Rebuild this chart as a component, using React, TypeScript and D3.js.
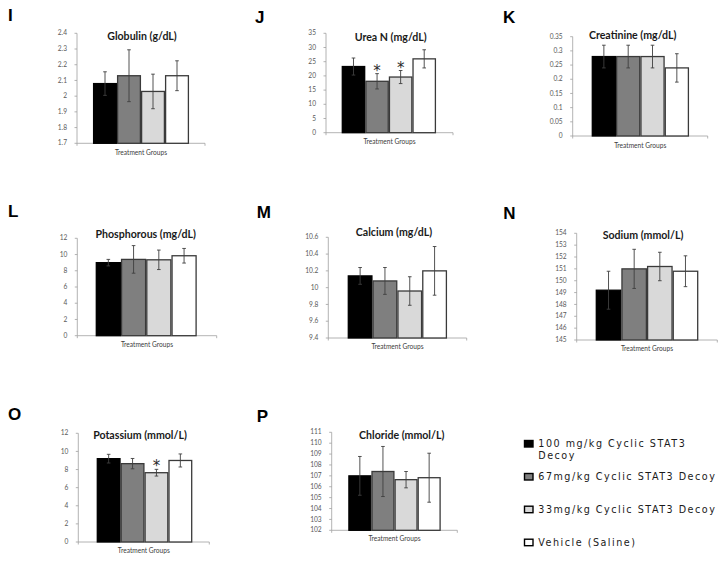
import React from "react";
import * as d3 from "d3";

// ---------- DATA ----------
const groupLabels = [
  "100 mg/kg Cyclic STAT3 Decoy",
  "67mg/kg Cyclic STAT3 Decoy",
  "33mg/kg Cyclic STAT3 Decoy",
  "Vehicle (Saline)",
];
const panelLetters = ["I", "J", "K", "L", "M", "N", "O", "P"];
const panelTitles = [
  "Globulin (g/dL)",
  "Urea N (mg/dL)",
  "Creatinine (mg/dL)",
  "Phosphorous (mg/dL)",
  "Calcium (mg/dL)",
  "Sodium (mmol/L)",
  "Potassium (mmol/L)",
  "Chloride (mmol/L)",
];
const xAxisLabel = "Treatment Groups";

const globulinMean = [2.08, 2.13, 2.03, 2.13];
const globulinErr = [0.075, 0.165, 0.11, 0.095];
const globulinTicks = [1.7, 1.8, 1.9, 2, 2.1, 2.2, 2.3, 2.4];

const ureaMean = [23.3, 18.1, 19.6, 26.0];
const ureaErr = [3.0, 2.7, 2.3, 3.2];
const ureaTicks = [0, 5, 10, 15, 20, 25, 30, 35];
const ureaSig = [false, true, true, false];

const creatinineMean = [0.28, 0.28, 0.28, 0.24];
const creatinineErr = [0.04, 0.04, 0.04, 0.05];
const creatinineTicks = [0, 0.05, 0.1, 0.15, 0.2, 0.25, 0.3, 0.35];

const phosphorousMean = [9.0, 9.4, 9.35, 9.85];
const phosphorousErr = [0.4, 1.7, 1.2, 0.9];
const phosphorousTicks = [0, 2, 4, 6, 8, 10, 12];

const calciumMean = [10.14, 10.08, 9.96, 10.2];
const calciumErr = [0.1, 0.16, 0.17, 0.29];
const calciumTicks = [9.4, 9.6, 9.8, 10, 10.2, 10.4, 10.6];

const sodiumMean = [149.2, 151.0, 151.2, 150.8];
const sodiumErr = [1.6, 1.65, 1.2, 1.3];
const sodiumTicks = [145, 146, 147, 148, 149, 150, 151, 152, 153, 154];

const potassiumMean = [9.2, 8.65, 7.65, 9.0];
const potassiumErr = [0.48, 0.57, 0.37, 0.72];
const potassiumTicks = [0, 2, 4, 6, 8, 10, 12];
const potassiumSig = [false, false, true, false];

const chlorideMean = [107.0, 107.4, 106.65, 106.83];
const chlorideErr = [1.78, 2.3, 0.75, 2.25];
const chlorideTicks = [102, 103, 104, 105, 106, 107, 108, 109, 110, 111];

const noSig = [false, false, false, false];

const panelData = [
  { mean: globulinMean, err: globulinErr, ticks: globulinTicks, sig: noSig },
  { mean: ureaMean, err: ureaErr, ticks: ureaTicks, sig: ureaSig },
  { mean: creatinineMean, err: creatinineErr, ticks: creatinineTicks, sig: noSig },
  { mean: phosphorousMean, err: phosphorousErr, ticks: phosphorousTicks, sig: noSig },
  { mean: calciumMean, err: calciumErr, ticks: calciumTicks, sig: noSig },
  { mean: sodiumMean, err: sodiumErr, ticks: sodiumTicks, sig: noSig },
  { mean: potassiumMean, err: potassiumErr, ticks: potassiumTicks, sig: potassiumSig },
  { mean: chlorideMean, err: chlorideErr, ticks: chlorideTicks, sig: noSig },
];

// ---------- LAYOUT ----------
const layout = [
  { lx: 8, ly: 21, ax: 77, top: 33.3, bot: 143.3, x0: 93, x1: 189, end: 205, tx: 142, ty: 40, xl: 155 },
  { lx: 255, ly: 22.5, ax: 326, top: 33.3, bot: 132.7, x0: 341.7, x1: 436, end: 453, tx: 390.7, ty: 41, xl: 144 },
  { lx: 503, ly: 23.3, ax: 572.7, top: 36.7, bot: 136, x0: 591.7, x1: 689, end: 707.7, tx: 632.7, ty: 38.7, xl: 147.7 },
  { lx: 8, ly: 216.7, ax: 77.3, top: 238.3, bot: 335.7, x0: 95.7, x1: 196.7, end: 216.7, tx: 145.7, ty: 238.3, xl: 346.7 },
  { lx: 256.7, ly: 218.3, ax: 328.3, top: 237.3, bot: 338, x0: 347.7, x1: 447, end: 466.7, tx: 394, ty: 236, xl: 349.3 },
  { lx: 503.3, ly: 219.3, ax: 576.7, top: 233.3, bot: 340, x0: 595.7, x1: 698.3, end: 717.3, tx: 643, ty: 239, xl: 350.7 },
  { lx: 8, ly: 420, ax: 78.3, top: 433.3, bot: 542, x0: 96.7, x1: 192.3, end: 209.3, tx: 140, ty: 439.3, xl: 552.7 },
  { lx: 256.7, ly: 421.7, ax: 331.7, top: 432.3, bot: 530.3, x0: 348.3, x1: 440.7, end: 457.3, tx: 401.7, ty: 439, xl: 540.7 },
];

const fills = ["#000000", "#7f7f7f", "#d9d9d9", "#ffffff"];
const strokes = ["#000000", "#3a3a3a", "#3a3a3a", "#3a3a3a"];
const axisColor = "#a0a0a0";
const tickText = "#595959";
const titleFont = "Lato, 'Open Sans', sans-serif";

const legendRows = [
  { y: 447, lines: ["100 mg/kg Cyclic STAT3", "Decoy"] },
  { y: 480, lines: ["67mg/kg Cyclic STAT3 Decoy"] },
  { y: 512.7, lines: ["33mg/kg Cyclic STAT3 Decoy"] },
  { y: 545.7, lines: ["Vehicle (Saline)"] },
];

function Panel({ i }: { i: number }) {
  const L = layout[i];
  const D = panelData[i];
  const y = d3
    .scaleLinear()
    .domain([D.ticks[0], D.ticks[D.ticks.length - 1]])
    .range([L.bot, L.top]);
  const x = d3
    .scaleBand<number>()
    .domain(D.mean.map((_, k) => k))
    .range([L.x0, L.x1])
    .padding(0);
  const bw = x.bandwidth();
  return (
    <g>
      <text
        x={L.lx}
        y={L.ly}
        fontFamily="'Liberation Sans', Arial, sans-serif"
        fontWeight="bold"
        fontSize={17}
        fill="#000"
      >
        {panelLetters[i]}
      </text>
      {/* y axis */}
      <line x1={L.ax} x2={L.ax} y1={L.top} y2={L.bot} stroke={axisColor} strokeWidth={0.8} />
      {D.ticks.map((t) => (
        <g key={t}>
          <line x1={L.ax - 2.5} x2={L.ax} y1={y(t)} y2={y(t)} stroke={axisColor} strokeWidth={0.8} />
          <text
            x={L.ax - 10}
            y={y(t)}
            dy="0.33em"
            textAnchor="end"
            fontFamily={titleFont}
            fontSize={6.6}
            fill={tickText}
          >
            {String(t)}
          </text>
        </g>
      ))}
      {/* x axis */}
      <line x1={L.ax} x2={L.end} y1={L.bot} y2={L.bot} stroke={axisColor} strokeWidth={0.8} />
      <line x1={L.ax} x2={L.ax} y1={L.bot} y2={L.bot + 2.5} stroke={axisColor} strokeWidth={0.8} />
      <line x1={L.end} x2={L.end} y1={L.bot} y2={L.bot + 2.5} stroke={axisColor} strokeWidth={0.8} />
      {/* bars */}
      {D.mean.map((m, k) => {
        const bx = x(k)!;
        return (
          <rect
            key={k}
            x={bx + 0.6}
            y={y(m)}
            width={bw - 1.2}
            height={L.bot - y(m)}
            fill={fills[k]}
            stroke={strokes[k]}
            strokeWidth={1.3}
          />
        );
      })}
      {/* error bars */}
      {D.mean.map((m, k) => {
        const cx = x(k)! + bw / 2;
        const hi = y(m + D.err[k]);
        const lo = y(m - D.err[k]);
        return (
          <g key={"e" + k} stroke="#404040" strokeWidth={0.9}>
            <line x1={cx} x2={cx} y1={hi} y2={lo} />
            <line x1={cx - 1.8} x2={cx + 1.8} y1={hi} y2={hi} />
            <line x1={cx - 1.8} x2={cx + 1.8} y1={lo} y2={lo} />
          </g>
        );
      })}
      {/* significance */}
      {D.mean.map((m, k) =>
        D.sig[k] ? (
          <text
            key={"s" + k}
            x={x(k)! + bw / 2}
            y={y(m + D.err[k]) + 2}
            textAnchor="middle"
            fontFamily="'DejaVu Sans', sans-serif"
            fontSize={15}
            fill="#2a2a2a"
          >
            *
          </text>
        ) : null
      )}
      {/* title */}
      <text
        x={L.tx}
        y={L.ty}
        textAnchor="middle"
        fontFamily={titleFont}
        fontWeight="bold"
        fontSize={10.6}
        fill="#1a1a1a"
      >
        {panelTitles[i]}
      </text>
      <text
        x={(L.ax + L.end) / 2}
        y={L.xl}
        textAnchor="middle"
        fontFamily={titleFont}
        fontSize={6.6}
        fill="#404040"
      >
        {xAxisLabel}
      </text>
    </g>
  );
}

export default function App() {
  return (
    <svg
      width={728}
      height={561}
      viewBox="0 0 728 561"
      style={{ position: "absolute", left: 0, top: 0, background: "#fff" }}
    >
      <rect x={0} y={0} width={728} height={561} fill="#fff" />
      {panelTitles.map((_, i) => (
        <Panel key={i} i={i} />
      ))}
      {legendRows.map((r, k) => (
        <g key={k}>
          <rect
            x={524.5}
            y={r.y - 6.5}
            width={8.5}
            height={6.5}
            fill={fills[k]}
            stroke="#000"
            strokeWidth={1.4}
          />
          {r.lines.map((ln, j) => (
            <text
              key={j}
              x={538.3}
              y={r.y + j * 11.5}
              fontFamily="'DejaVu Sans', Verdana, sans-serif"
              fontSize={9.6}
              letterSpacing={1.5}
              fill="#1a1a1a"
            >
              {ln}
            </text>
          ))}
        </g>
      ))}
    </svg>
  );
}
